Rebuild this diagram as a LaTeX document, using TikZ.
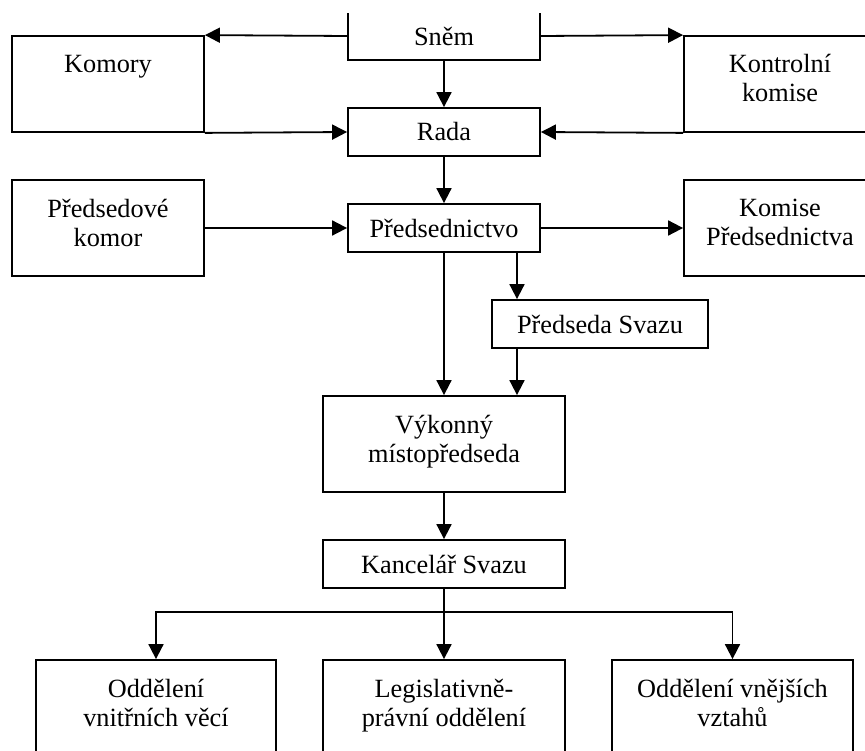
\documentclass[tikz,border=0pt]{standalone}
\usepackage{fontspec}
\setmainfont{Liberation Serif}
\usetikzlibrary{arrows.meta}
\begin{document}
\begin{tikzpicture}[x=1pt,y=-1pt,
  box/.style={draw, line width=1.8pt, inner sep=0pt, font=\fontsize{26.3}{29}\selectfont},
  txt/.style={anchor=north, inner sep=0pt, align=center, font=\fontsize{26.3}{29}\selectfont},
  arr/.style={line width=1.8pt, -{Triangle[length=15pt,width=15pt]}}]
\useasboundingbox (0,0) rectangle (865,751);
\clip (0,13.3) rectangle (865,751);
% boxes
\node[box, minimum width=192pt, minimum height=48pt] (snem) at (444,36) {Sněm};
\node[box, minimum width=192pt, minimum height=96pt] (komory) at (108,84) {};
\node[box, minimum width=192pt, minimum height=96pt] (kontrol) at (780,84) {};
\node[box, minimum width=192pt, minimum height=48pt] (rada) at (444,132) {Rada};
\node[box, minimum width=192pt, minimum height=96pt] (predkom) at (108,228) {};
\node[box, minimum width=192pt, minimum height=48pt] (presid) at (444,228) {Předsednictvo};
\node[box, minimum width=192pt, minimum height=96pt] (komise) at (780,228) {};
\node[box, minimum width=216pt, minimum height=48pt] (predseda) at (600,324) {Předseda Svazu};
\node[box, minimum width=242pt, minimum height=96pt] (vykon) at (444,444) {};
\node[box, minimum width=242pt, minimum height=48pt] (kanc) at (444,564) {Kancelář Svazu};
\node[box, minimum width=240pt, minimum height=120pt] (odd1) at (156,720) {};
\node[box, minimum width=242pt, minimum height=120pt] (odd2) at (444,720) {};
\node[box, minimum width=241pt, minimum height=120pt] (odd3) at (732.5,720) {};
% texts
\node[txt] (komoryT) at (108,55) {Komory};
\node[txt] (kontrolT) at (780,54) {Kontrolní\\komise};
\node[txt] (predkomT) at (108,199) {Předsedové\\komor};
\node[txt] (komiseT) at (780,199) {Komise\\Předsednictva};
\node[txt] (vykonT) at (444,415) {Výkonný\\místopředseda};
\node[txt] (odd1T) at (156,679) {Oddělení\\vnitřních věcí};
\node[txt] (odd2T) at (444,679) {Legislativně-\\právní oddělení};
\node[txt] (odd3T) at (732.5,679) {Oddělení vnějších\\vztahů};
% connectors
\coordinate (colx) at (517,0);
\coordinate (j) at (444,612);
\draw[arr] (snem.west) -- (komory.north east);
\draw[arr] (snem.east) -- (kontrol.north west);
\draw[arr] (snem.south) -- (rada.north);
\draw[arr] (komory.south east) -- (rada.west);
\draw[arr] (kontrol.south west) -- (rada.east);
\draw[arr] (rada.south) -- (presid.north);
\draw[arr] (predkom.east) -- (presid.west);
\draw[arr] (presid.east) -- (komise.west);
\draw[arr] (presid.south) -- (vykon.north);
\draw[arr] (presid.south -| colx) -- (predseda.north -| colx);
\draw[arr] (predseda.south -| colx) -- (vykon.north -| colx);
\draw[arr] (vykon.south) -- (kanc.north);
\draw[arr] (kanc.south) -- (odd2.north);
\draw[arr] (j) -| (odd1.north);
\draw[arr] (j) -| (odd3.north);
\end{tikzpicture}
\end{document}
